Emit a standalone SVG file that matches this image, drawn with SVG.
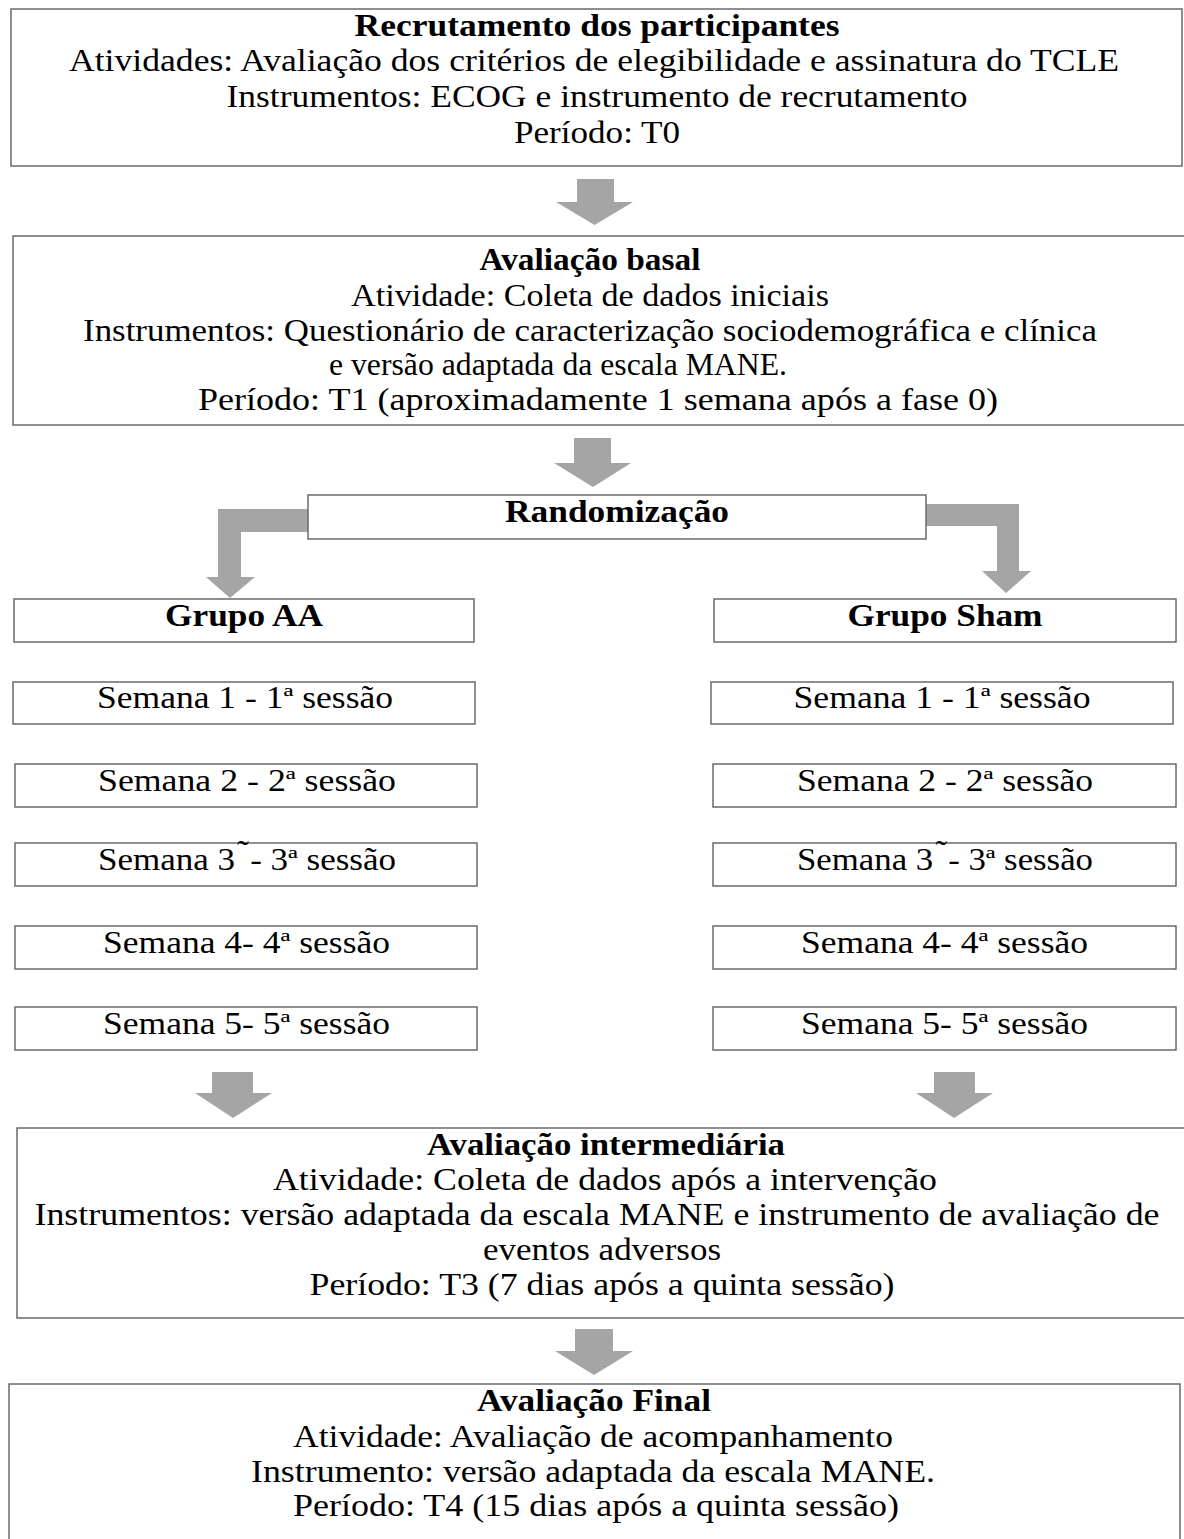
<svg xmlns="http://www.w3.org/2000/svg" width="1184" height="1539" viewBox="0 0 1184 1539">
<style>
.box{fill:#fff;stroke:#6a6a6a;stroke-width:1.5}
.arr{fill:#a5a5a5;stroke:none}
text{font-family:"Liberation Serif","Times New Roman",Times,serif;fill:#000;text-anchor:middle}
.t{font-size:32px;font-weight:bold}
.b{font-size:32px}
.s{font-size:31px}
</style>
<rect width="1184" height="1539" fill="#fff"/>
<g id="connectors">
<polygon class="arr" points="577,179 614,179 614,202 633,202 594.5,225 556,202 577,202"/>
<polygon class="arr" points="574,438 611,438 611,463 631,463 593,487 554,463 574,463"/>
<polygon class="arr" points="308,509 218,509 218,577 206,577 230,598 255,577 241,577 241,532 308,532"/>
<polygon class="arr" points="926,504 1019,504 1019,571 1031,571 1006,593 982,571 997,571 997,526 926,526"/>
<polygon class="arr" points="212,1072 253,1072 253,1093 272,1093 233,1118 195,1093 212,1093"/>
<polygon class="arr" points="934,1072 975,1072 975,1093 993,1093 954,1118 916,1093 934,1093"/>
<polygon class="arr" points="575,1329 613,1329 613,1351 633,1351 594,1375 555,1351 575,1351"/>
</g>
<g id="recrutamento">
<rect class="box" x="11" y="9" width="1171" height="157"/>
<text class="t" x="597" y="36" textLength="485" lengthAdjust="spacingAndGlyphs">Recrutamento dos participantes</text>
<text class="b" x="594" y="71" textLength="1050" lengthAdjust="spacingAndGlyphs">Atividades: Avaliação dos critérios de elegibilidade e assinatura do TCLE</text>
<text class="b" x="597" y="107" textLength="741" lengthAdjust="spacingAndGlyphs">Instrumentos: ECOG e instrumento de recrutamento</text>
<text class="b" x="597" y="143" textLength="166" lengthAdjust="spacingAndGlyphs">Período: T0</text>
</g>
<g id="basal">
<rect class="box" x="13" y="236" width="1180" height="189"/>
<text class="t" x="590" y="270" textLength="221" lengthAdjust="spacingAndGlyphs">Avaliação basal</text>
<text class="b" x="590" y="306" textLength="478" lengthAdjust="spacingAndGlyphs">Atividade: Coleta de dados iniciais</text>
<text class="b" x="590" y="341" textLength="1014" lengthAdjust="spacingAndGlyphs">Instrumentos: Questionário de caracterização sociodemográfica e clínica</text>
<text class="b" x="558" y="375" textLength="458" lengthAdjust="spacingAndGlyphs">e versão adaptada da escala MANE.</text>
<text class="b" x="598" y="410" textLength="800" lengthAdjust="spacingAndGlyphs">Período: T1 (aproximadamente 1 semana após a fase 0)</text>
</g>
<g id="randomizacao">
<rect class="box" x="308" y="495" width="618" height="44"/>
<text class="t" x="617" y="522" textLength="224" lengthAdjust="spacingAndGlyphs">Randomização</text>
</g>
<g id="grupo-aa">
<rect class="box" x="14" y="599" width="460" height="43"/>
<text class="t" x="244" y="626" textLength="158" lengthAdjust="spacingAndGlyphs">Grupo AA</text>
</g>
<g id="grupo-sham">
<rect class="box" x="714" y="599" width="462" height="43"/>
<text class="t" x="945" y="626" textLength="195" lengthAdjust="spacingAndGlyphs">Grupo Sham</text>
</g>
<g id="aa-s1"><rect class="box" x="13" y="682" width="462" height="42"/><text class="s" x="245" y="708" textLength="296" lengthAdjust="spacingAndGlyphs">Semana 1 - 1ª sessão</text></g>
<g id="aa-s2"><rect class="box" x="15" y="764" width="462" height="43"/><text class="s" x="247" y="791" textLength="298" lengthAdjust="spacingAndGlyphs">Semana 2 - 2ª sessão</text></g>
<g id="aa-s3"><rect class="box" x="15" y="843" width="462" height="43"/><text class="s" x="247" y="870" textLength="298" lengthAdjust="spacingAndGlyphs">Semana 3<tspan dx="2" dy="-8">˜</tspan><tspan dx="1" dy="8">- 3ª sessão</tspan></text></g>
<g id="aa-s4"><rect class="box" x="15" y="926" width="462" height="43"/><text class="s" x="246.5" y="953" textLength="287" lengthAdjust="spacingAndGlyphs">Semana 4- 4ª sessão</text></g>
<g id="aa-s5"><rect class="box" x="15" y="1007" width="462" height="43"/><text class="s" x="246.5" y="1034" textLength="287" lengthAdjust="spacingAndGlyphs">Semana 5- 5ª sessão</text></g>
<g id="sham-s1"><rect class="box" x="711" y="682" width="462" height="42"/><text class="s" x="942" y="708" textLength="297" lengthAdjust="spacingAndGlyphs">Semana 1 - 1ª sessão</text></g>
<g id="sham-s2"><rect class="box" x="713" y="764" width="463" height="43"/><text class="s" x="945" y="791" textLength="296" lengthAdjust="spacingAndGlyphs">Semana 2 - 2ª sessão</text></g>
<g id="sham-s3"><rect class="box" x="713" y="843" width="463" height="43"/><text class="s" x="945" y="870" textLength="296" lengthAdjust="spacingAndGlyphs">Semana 3<tspan dx="2" dy="-8">˜</tspan><tspan dx="1" dy="8">- 3ª sessão</tspan></text></g>
<g id="sham-s4"><rect class="box" x="713" y="926" width="463" height="43"/><text class="s" x="944.5" y="953" textLength="287" lengthAdjust="spacingAndGlyphs">Semana 4- 4ª sessão</text></g>
<g id="sham-s5"><rect class="box" x="713" y="1007" width="463" height="43"/><text class="s" x="944.5" y="1034" textLength="287" lengthAdjust="spacingAndGlyphs">Semana 5- 5ª sessão</text></g>
<g id="intermediaria">
<rect class="box" x="17" y="1128" width="1180" height="190"/>
<text class="t" x="606" y="1155" textLength="358" lengthAdjust="spacingAndGlyphs">Avaliação intermediária</text>
<text class="b" x="605" y="1190" textLength="664" lengthAdjust="spacingAndGlyphs">Atividade: Coleta de dados após a intervenção</text>
<text class="b" x="597" y="1225" textLength="1125" lengthAdjust="spacingAndGlyphs">Instrumentos: versão adaptada da escala MANE e instrumento de avaliação de</text>
<text class="b" x="602" y="1260" textLength="238" lengthAdjust="spacingAndGlyphs">eventos adversos</text>
<text class="b" x="602" y="1295" textLength="585" lengthAdjust="spacingAndGlyphs">Período: T3 (7 dias após a quinta sessão)</text>
</g>
<g id="final">
<rect class="box" x="9" y="1384" width="1171" height="165"/>
<text class="t" x="594" y="1411" textLength="234" lengthAdjust="spacingAndGlyphs">Avaliação Final</text>
<text class="b" x="593" y="1447" textLength="600" lengthAdjust="spacingAndGlyphs">Atividade: Avaliação de acompanhamento</text>
<text class="b" x="593" y="1482" textLength="684" lengthAdjust="spacingAndGlyphs">Instrumento: versão adaptada da escala MANE.</text>
<text class="b" x="596" y="1516" textLength="606" lengthAdjust="spacingAndGlyphs">Período: T4 (15 dias após a quinta sessão)</text>
</g>
</svg>
